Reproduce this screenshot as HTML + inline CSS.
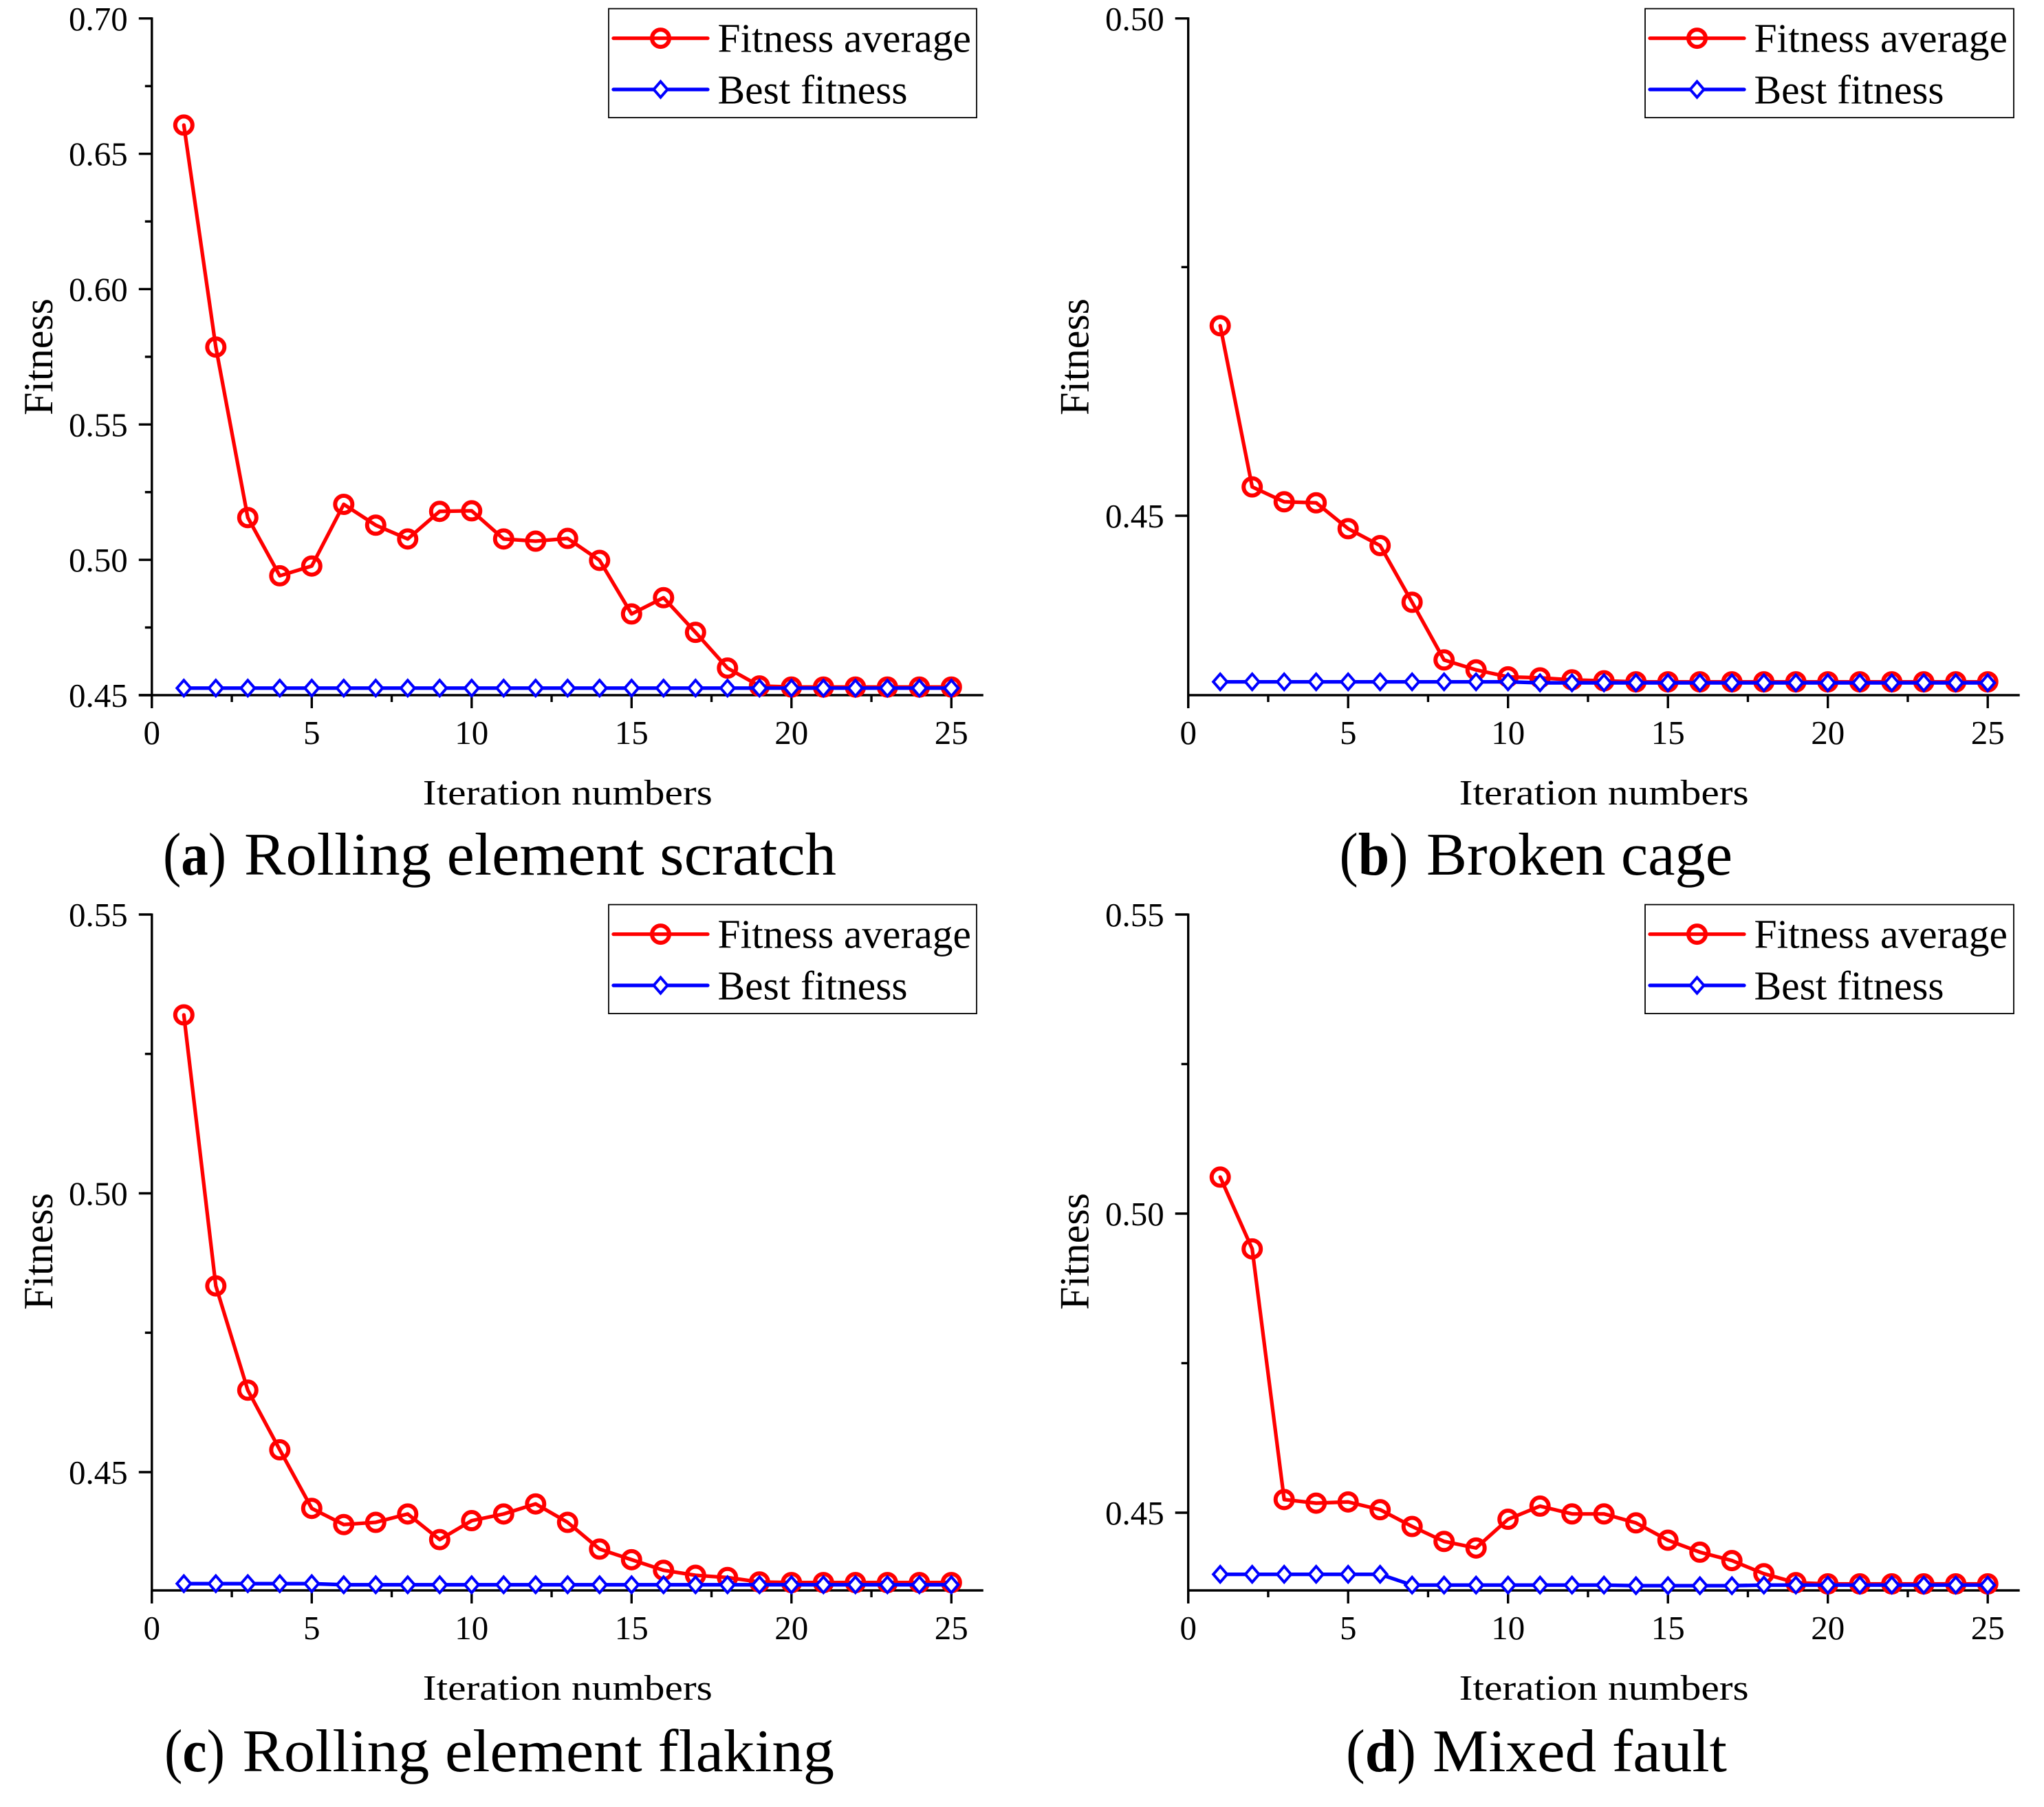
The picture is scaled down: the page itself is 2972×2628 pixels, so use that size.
<!DOCTYPE html>
<html lang="en">
<head>
<meta charset="utf-8">
<title>Fitness curves</title>
<style>
html,body{margin:0;padding:0;background:#fff;}
svg{display:block;}
text{font-family:"Liberation Serif","Times New Roman",serif;fill:#000;}
</style>
</head>
<body>
<svg id="chart" xmlns="http://www.w3.org/2000/svg" width="2972" height="2628" viewBox="0 0 2972 2628"></svg>
<script>
var iterations = [1,2,3,4,5,6,7,8,9,10,11,12,13,14,15,16,17,18,19,20,21,22,23,24,25];
var xTickValues = [0,5,10,15,20,25];
var xTickLabels = ["0","5","10","15","20","25"];
var xMinorValues = [2.5,7.5,12.5,17.5,22.5];

var avgA = [0.6606,0.5786,0.5156,0.4941,0.4977,0.5205,0.5128,0.5077,0.5179,0.5181,0.5077,0.5069,0.5079,0.4998,0.4800,0.4860,0.4732,0.4600,0.4534,0.4530,0.4530,0.4530,0.4530,0.4530,0.4530];
var bestA = [0.4526,0.4526,0.4526,0.4526,0.4526,0.4526,0.4526,0.4526,0.4526,0.4526,0.4526,0.4526,0.4526,0.4526,0.4526,0.4526,0.4526,0.4526,0.4526,0.4526,0.4526,0.4526,0.4526,0.4526,0.4526];
var yTicksA = [0.45,0.50,0.55,0.60,0.65,0.70];
var yLabelsA = ["0.45","0.50","0.55","0.60","0.65","0.70"];
var yMinorA = [0.475,0.525,0.575,0.625,0.675];

var avgB = [0.4691,0.4529,0.4514,0.4513,0.4487,0.4470,0.4413,0.4355,0.4345,0.4338,0.4337,0.4335,0.4334,0.4333,0.4333,0.4333,0.4333,0.4333,0.4333,0.4333,0.4333,0.4333,0.4333,0.4333,0.4333];
var bestB = [0.4333,0.4333,0.4333,0.4333,0.4333,0.4333,0.4333,0.4333,0.4333,0.4333,0.4332,0.4332,0.4332,0.4332,0.4332,0.4332,0.4332,0.4332,0.4332,0.4332,0.4332,0.4332,0.4332,0.4332,0.4332];
var yTicksB = [0.45,0.50];
var yLabelsB = ["0.45","0.50"];
var yMinorB = [0.475];

var avgC = [0.5320,0.4834,0.4647,0.4540,0.4435,0.4406,0.4410,0.4425,0.4379,0.4413,0.4425,0.4443,0.4410,0.4362,0.4343,0.4324,0.4315,0.4311,0.4303,0.4302,0.4302,0.4302,0.4302,0.4302,0.4302];
var bestC = [0.4300,0.4300,0.4300,0.4300,0.4300,0.4298,0.4298,0.4298,0.4298,0.4298,0.4298,0.4298,0.4298,0.4298,0.4298,0.4298,0.4298,0.4298,0.4298,0.4298,0.4298,0.4298,0.4298,0.4298,0.4298];
var yTicksC = [0.45,0.50,0.55];
var yLabelsC = ["0.45","0.50","0.55"];
var yMinorC = [0.475,0.525];

var avgD = [0.5061,0.4941,0.4522,0.4516,0.4518,0.4505,0.4477,0.4452,0.4441,0.4489,0.4511,0.4498,0.4498,0.4483,0.4454,0.4434,0.4420,0.4398,0.4383,0.4381,0.4381,0.4381,0.4381,0.4381,0.4381];
var bestD = [0.4397,0.4397,0.4397,0.4397,0.4397,0.4397,0.4379,0.4379,0.4379,0.4379,0.4379,0.4379,0.4379,0.4378,0.4378,0.4378,0.4378,0.4379,0.4379,0.4379,0.4379,0.4379,0.4379,0.4379,0.4379];
var yTicksD = [0.45,0.50,0.55];
var yLabelsD = ["0.45","0.50","0.55"];
var yMinorD = [0.475,0.525];

var NS = "http://www.w3.org/2000/svg";
var svg = document.getElementById("chart");

function make(parent, tag, attrs, name, interactive) {
  var el = document.createElementNS(NS, tag);
  for (var k in attrs) { el.setAttribute(k, attrs[k]); }
  
  
  parent.appendChild(el);
  return el;
}

function label(parent, x, y, str, size, anchor, name, extra) {
  var attrs = {x: x, y: y, "font-size": size, "text-anchor": anchor};
  for (var k in (extra || {})) { attrs[k] = extra[k]; }
  var el = make(parent, "text", attrs, name, false);
  el.textContent = str;
  return el;
}

function tick(parent, x1, y1, x2, y2, name) {
  return make(parent, "line", {x1: x1, y1: y1, x2: x2, y2: y2, stroke: "#000", "stroke-width": 3.4}, name, false);
}

function polyline(parent, pts, color, name) {
  return make(parent, "polyline", {points: pts.join(" "), fill: "none", stroke: color, "stroke-width": 5.3, "stroke-linejoin": "round", "stroke-linecap": "round"}, name, false);
}

function circleMark(parent, x, y, name) {
  return make(parent, "circle", {cx: x, cy: y, r: 12.5, fill: "none", stroke: "#ff0000", "stroke-width": 6}, name, false);
}

function diamondMark(parent, x, y, name) {
  var dx = 10;
  var dy = 11.5;
  var pts = (x - dx) + "," + y + " " + x + "," + (y - dy) + " " + (x + dx) + "," + y + " " + x + "," + (y + dy);
  return make(parent, "polygon", {points: pts, fill: "#fff", stroke: "#0000ff", "stroke-width": 4, "stroke-linejoin": "miter"}, name, false);
}

function drawPanel(p) {
  var g = make(svg, "g", {}, "panel-" + p.id, false);
  function xs(v) { return p.x0 + v * 46.5; }
  function ys(v) { return p.yBottom - (v - p.domain[0]) / (p.domain[1] - p.domain[0]) * (p.yBottom - p.yTop); }

  // axes
  tick(g, p.x0, p.yTop - 1.5, p.x0, p.yBottom + 19, "y-axis-" + p.id);
  tick(g, p.x0 - (p.tickAtBottom ? 19 : 0), p.yBottom, xs(26), p.yBottom, "x-axis-" + p.id);

  xTickValues.forEach(function (v, i) {
    tick(g, xs(v), p.yBottom, xs(v), p.yBottom + 19, "x-tick-" + p.id + "-" + v);
    label(g, xs(v), p.yBottom + 71, xTickLabels[i], 49, "middle", "x-tick-label-" + p.id + "-" + v);
  });
  xMinorValues.forEach(function (v) {
    tick(g, xs(v), p.yBottom, xs(v), p.yBottom + 10, "x-minor-tick-" + p.id + "-" + v);
  });
  p.yTicks.forEach(function (v, i) {
    tick(g, p.x0 - 19, ys(v), p.x0, ys(v), "y-tick-" + p.id + "-" + p.yLabels[i]);
    label(g, p.x0 - 35, ys(v) + 17, p.yLabels[i], 49, "end", "y-tick-label-" + p.id + "-" + p.yLabels[i]);
  });
  p.yMinor.forEach(function (v) {
    tick(g, p.x0 - 10, ys(v), p.x0, ys(v), "y-minor-tick-" + p.id + "-" + v);
  });

  // titles
  label(g, xs(13), p.yBottom + 159, "Iteration numbers", 52, "middle", "x-axis-title-" + p.id, {textLength: 421, lengthAdjust: "spacingAndGlyphs"});
  var ty = p.titleY;
  label(g, 0, 0, "Fitness", 60, "middle", "y-axis-title-" + p.id, {transform: "translate(" + (p.x0 - 145) + "," + ty + ") rotate(-90)"});

  // series
  var avgPts = [];
  var bestPts = [];
  iterations.forEach(function (it, i) {
    avgPts.push(xs(it) + "," + ys(p.avg[i]));
    bestPts.push(xs(it) + "," + ys(p.best[i]));
  });
  polyline(g, avgPts, "#ff0000", "fitness-average-line-" + p.id);
  iterations.forEach(function (it, i) {
    circleMark(g, xs(it), ys(p.avg[i]), "fitness-average-point-" + p.id + "-" + it);
  });
  polyline(g, bestPts, "#0000ff", "best-fitness-line-" + p.id);
  iterations.forEach(function (it, i) {
    diamondMark(g, xs(it), ys(p.best[i]), "best-fitness-point-" + p.id + "-" + it);
  });

  // legend
  var lg = make(g, "g", {}, "legend-" + p.id, false);
  make(lg, "rect", {x: p.legendX, y: p.legendY, width: p.legendW, height: 158.5, fill: "#fff", stroke: "#000", "stroke-width": 1.8}, "legend-box-" + p.id, false);
  var lx1 = p.legendX + 7;
  var lx2 = p.legendX + 144;
  var lmid = (lx1 + lx2) / 2;
  var r1 = p.legendY + 43;
  var r2 = p.legendY + 117.5;
  make(lg, "line", {x1: lx1, y1: r1, x2: lx2, y2: r1, stroke: "#ff0000", "stroke-width": 5.3, "stroke-linecap": "round"}, "legend-swatch-average-" + p.id, false);
  circleMark(lg, lmid, r1, "legend-marker-average-" + p.id);
  make(lg, "line", {x1: lx1, y1: r2, x2: lx2, y2: r2, stroke: "#0000ff", "stroke-width": 5.3, "stroke-linecap": "round"}, "legend-swatch-best-" + p.id, false);
  diamondMark(lg, lmid, r2, "legend-marker-best-" + p.id);
  label(lg, p.legendX + 158.5, p.legendY + 63, "Fitness average", 59.5, "start", "legend-label-average-" + p.id);
  label(lg, p.legendX + 158.5, p.legendY + 138, "Best fitness", 59.5, "start", "legend-label-best-" + p.id);

  // caption
  var capGroup = make(g, "g", {}, "caption-" + p.id, false);
  var tag = make(capGroup, "text", {x: p.tagX, y: p.capY, "font-size": 88, textLength: p.tagW, lengthAdjust: "spacingAndGlyphs"}, "caption-tag-" + p.id, false);
  tag.appendChild(document.createTextNode("("));
  var b = make(tag, "tspan", {"font-weight": "bold"}, "caption-letter-" + p.id, false);
  b.textContent = p.id;
  tag.appendChild(document.createTextNode(")"));
  label(capGroup, p.capX, p.capY, p.caption, 88, "start", "caption-text-" + p.id, {textLength: p.capW, lengthAdjust: "spacingAndGlyphs"});
}

drawPanel({id: "a", x0: 220.8, yTop: 26.8, yBottom: 1011, domain: [0.45, 0.70], avg: avgA, best: bestA, yTicks: yTicksA, yLabels: yLabelsA, yMinor: yMinorA, tickAtBottom: true, titleY: 519, legendX: 885, legendY: 12.6, legendW: 535, tagX: 237, tagW: 92, capX: 355, capY: 1272, capW: 861, caption: "Rolling element scratch"});
drawPanel({id: "b", x0: 1727.7, yTop: 26.8, yBottom: 1011, domain: [0.43196, 0.50], avg: avgB, best: bestB, yTicks: yTicksB, yLabels: yLabelsB, yMinor: yMinorB, tickAtBottom: false, titleY: 519, legendX: 2392, legendY: 12.6, legendW: 536, tagX: 1947.5, tagW: 100, capX: 2074, capY: 1272, capW: 445, caption: "Broken cage"});
drawPanel({id: "c", x0: 220.8, yTop: 1330, yBottom: 2313, domain: [0.42879, 0.55], avg: avgC, best: bestC, yTicks: yTicksC, yLabels: yLabelsC, yMinor: yMinorC, tickAtBottom: false, titleY: 1820, legendX: 885, legendY: 1315.6, legendW: 535, tagX: 239, tagW: 88, capX: 352.5, capY: 2576, capW: 860.5, caption: "Rolling element flaking"});
drawPanel({id: "d", x0: 1727.7, yTop: 1330, yBottom: 2313, domain: [0.43701, 0.55], avg: avgD, best: bestD, yTicks: yTicksD, yLabels: yLabelsD, yMinor: yMinorD, tickAtBottom: false, titleY: 1820, legendX: 2392, legendY: 1315.6, legendW: 536, tagX: 1957, tagW: 102, capX: 2083, capY: 2576, capW: 428, caption: "Mixed fault"});
</script>
</body>
</html>
